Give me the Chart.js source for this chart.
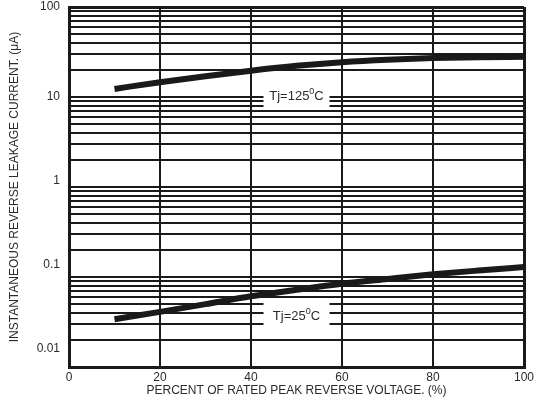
<!DOCTYPE html>
<html lang="en">
<head>
    <meta charset="UTF-8">
    <title>Reverse Leakage Current</title>
    <script src="https://cdn.jsdelivr.net/npm/chart.js@4.4.0/dist/chart.umd.min.js"></script>
    <style>
        html, body { margin: 0; padding: 0; background: #fff; }
        #wrap { width: 537px; height: 400px; }
    </style>
</head>
<body>
    <div id="wrap"><canvas id="leakChart" width="537" height="400"></canvas></div>
    <script>
        // Percent of rated peak reverse voltage
        const voltagePct = [10, 20, 30, 40, 50, 60, 70, 80, 90, 100];
        // Leakage current (uA)
        const leak125 = [12.3, 14.6, 17.0, 19.6, 22.2, 24.4, 26.0, 27.1, 27.7, 28];
        const leak25 = [0.034, 0.041, 0.05, 0.061, 0.072, 0.084, 0.095, 0.107, 0.118, 0.129];
        // Axis ticks
        const xTicks = [0, 20, 40, 60, 80, 100];
        const yDecades = [0.01, 0.1, 1, 10, 100];
        const yDecadeLabels = ['0.01', '0.1', '1', '10', '100'];

        const INK = '#1a1a1a';
        const TEXT = '#2b2b2b';
        const FONT = "'Liberation Sans', Arial, sans-serif";

        // white boxed curve labels, drawn over the grid
        const curveNotes = {
            id: 'curveNotes',
            afterDatasetsDraw(chart) {
                const { ctx, scales: { x, y } } = chart;
                const notes = [
                    { main: 'Tj=125', x: 50, y: 10.5 },
                    { main: 'Tj=25', x: 50, y: 0.038 }
                ];
                ctx.save();
                notes.forEach(n => {
                    const cx = x.getPixelForValue(n.x);
                    const cy = y.getPixelForValue(n.y);
                    ctx.fillStyle = '#fff';
                    ctx.fillRect(cx - 33, cy - 13, 66, 26);
                    ctx.font = '13px ' + FONT;
                    const w1 = ctx.measureText(n.main).width;
                    ctx.font = '9px ' + FONT;
                    const w2 = ctx.measureText('0').width;
                    ctx.font = '13px ' + FONT;
                    const w3 = ctx.measureText('C').width;
                    let left = cx - (w1 + w2 + w3) / 2;
                    ctx.fillStyle = TEXT;
                    ctx.textBaseline = 'alphabetic';
                    ctx.textAlign = 'left';
                    ctx.fillText(n.main, left, cy + 5);
                    ctx.font = '9px ' + FONT;
                    ctx.fillText('0', left + w1, cy - 1);
                    ctx.font = '13px ' + FONT;
                    ctx.fillText('C', left + w1 + w2, cy + 5);
                });
                ctx.restore();
            }
        };

        const edgeWidth = (v, lo, hi) => (v === lo || v === hi) ? 3 : 2;

        new Chart(document.getElementById('leakChart').getContext('2d'), {
            type: 'line',
            data: {
                datasets: [
                    {
                        label: 'Tj=125C',
                        data: voltagePct.map((v, i) => ({ x: v, y: leak125[i] })),
                        borderColor: INK,
                        borderWidth: 6,
                        pointRadius: 0,
                        cubicInterpolationMode: 'monotone',
                        fill: false
                    },
                    {
                        label: 'Tj=25C',
                        data: voltagePct.map((v, i) => ({ x: v, y: leak25[i] })),
                        borderColor: INK,
                        borderWidth: 6,
                        pointRadius: 0,
                        cubicInterpolationMode: 'monotone',
                        fill: false
                    }
                ]
            },
            options: {
                responsive: false,
                animation: false,
                layout: { padding: { top: 7, right: 13, left: 0, bottom: 0 } },
                plugins: {
                    legend: { display: false },
                    tooltip: { enabled: false }
                },
                scales: {
                    x: {
                        type: 'linear',
                        min: 0,
                        max: 100,
                        afterBuildTicks: scale => { scale.ticks = xTicks.map(v => ({ value: v })); },
                        afterFit: scale => {
                            scale.height = 33;
                            scale.paddingLeft = 0;
                            scale.paddingRight = 0;
                        },
                        ticks: {
                            color: TEXT,
                            font: { family: FONT, size: 12 },
                            padding: 3,
                            maxRotation: 0
                        },
                        grid: {
                            color: INK,
                            lineWidth: c => edgeWidth(c.tick ? c.tick.value : null, 0, 100),
                            drawTicks: false
                        },
                        border: { display: true, color: INK, width: 3 },
                        title: {
                            display: true,
                            text: 'PERCENT OF RATED PEAK REVERSE VOLTAGE. (%)',
                            color: TEXT,
                            font: { family: FONT, size: 12 },
                            padding: { top: 0, bottom: 2 }
                        }
                    },
                    y: {
                        type: 'logarithmic',
                        min: 0.01,
                        max: 100,
                        afterBuildTicks: scale => {
                            const t = [];
                            yDecades.forEach(d => {
                                if (d === 100) { t.push({ value: 100 }); return; }
                                for (let k = 1; k <= 9; k++) t.push({ value: +(d * k).toPrecision(3) });
                            });
                            scale.ticks = t;
                        },
                        afterFit: scale => {
                            scale.width = 69;
                            scale.paddingTop = 0;
                            scale.paddingBottom = 0;
                        },
                        ticks: {
                            autoSkip: false,
                            color: TEXT,
                            font: { family: FONT, size: 12, lineHeight: 1 },
                            padding: 9,
                            callback: v => {
                                const i = yDecades.indexOf(v);
                                if (i < 0) return '';
                                // the printed labels sit a little above their lines in the lower decades
                                const lift = Math.max(0, 1 - Math.round(Math.log10(v)));
                                const lines = [yDecadeLabels[i]];
                                for (let k = 0; k < lift; k++) lines.push('');
                                return lines;
                            }
                        },
                        grid: {
                            color: INK,
                            lineWidth: c => edgeWidth(c.tick ? c.tick.value : null, 0.01, 100),
                            drawTicks: false
                        },
                        border: { display: true, color: INK, width: 3 },
                        title: {
                            display: true,
                            text: 'INSTANTANEOUS REVERSE LEAKAGE CURRENT. (\u03BCA)',
                            color: TEXT,
                            font: { family: FONT, size: 12 },
                            padding: { top: 7, bottom: 0 }
                        }
                    }
                }
            },
            plugins: [curveNotes]
        });
    </script>
</body>
</html>
